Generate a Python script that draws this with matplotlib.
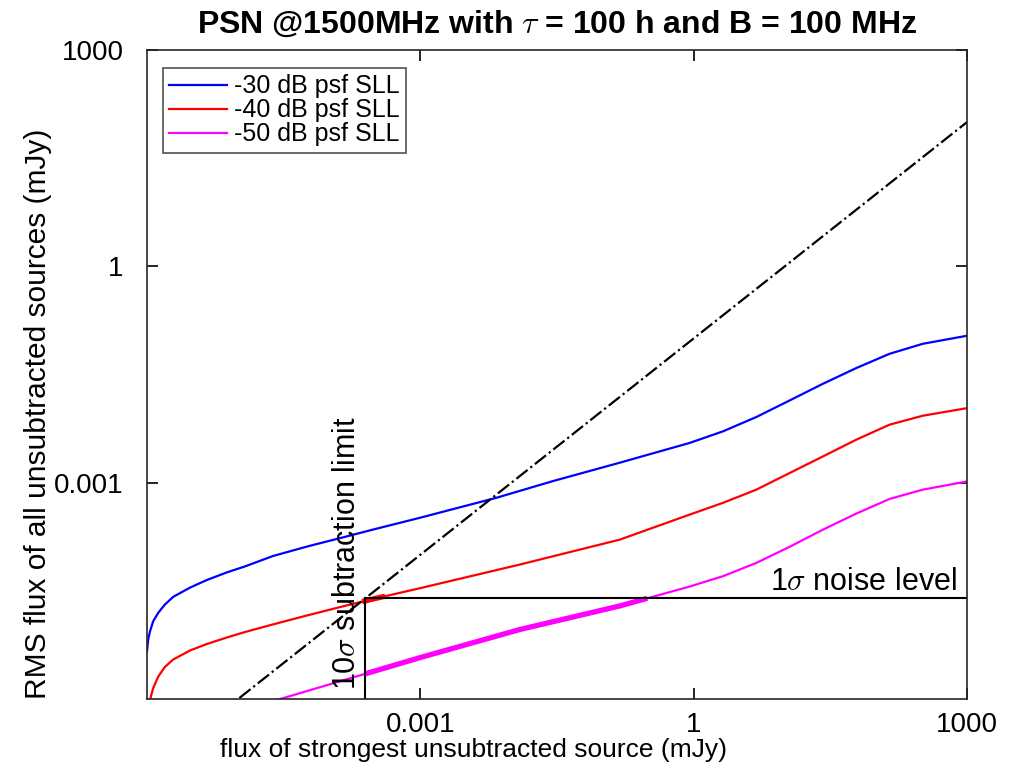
import numpy as np
import matplotlib
matplotlib.use('Agg')
import matplotlib.pyplot as plt

# values (mJy)
x_30 = [1.0e-6, 1.03e-6, 1.08e-6, 1.17e-6, 1.33e-6, 1.57e-6, 1.94e-6, 2.96e-6, 4.52e-6, 7.48e-6,
        1.19e-5, 2.4e-5, 5.7e-5, 1.31e-4, 3.0e-4, 1.0e-3, 6.9e-3, 2.84e-2, 0.154, 0.90,
        2.09, 4.87, 11.3, 26.2, 60.8, 141, 327, 1000]
y_30 = [4.6e-6, 6.68e-6, 8.71e-6, 1.20e-5, 1.57e-5, 2.04e-5, 2.61e-5, 3.50e-5, 4.46e-5, 5.68e-5,
        6.90e-5, 9.59e-5, 1.30e-4, 1.70e-4, 2.23e-4, 3.27e-4, 6.19e-4, 1.05e-3, 1.89e-3, 3.55e-3,
        5.14e-3, 8.13e-3, 1.38e-2, 2.35e-2, 3.88e-2, 6.12e-2, 8.43e-2, 0.109]

x_40 = [1.08e-6, 1.17e-6, 1.33e-6, 1.57e-6, 1.94e-6, 2.96e-6, 4.52e-6, 7.48e-6, 1.19e-5, 2.4e-5,
        5.7e-5, 1.31e-4, 3.0e-4, 1.0e-3, 1.23e-2, 0.154, 0.90,
        2.09, 4.87, 11.3, 26.2, 60.8, 141, 327, 1000]
y_40 = [9.8e-7, 1.42e-6, 2.05e-6, 2.78e-6, 3.53e-6, 4.70e-6, 5.78e-6, 7.11e-6, 8.49e-6, 1.08e-5,
        1.44e-5, 1.88e-5, 2.43e-5, 3.45e-5, 7.31e-5, 1.62e-4, 3.60e-4,
        5.24e-4, 8.0e-4, 1.36e-3, 2.31e-3, 3.94e-3, 6.37e-3, 8.48e-3, 1.08e-2]

x_50 = [2.74e-5, 1.0e-3, 1.23e-2, 0.154, 0.90, 2.09, 4.87, 11.3, 26.2, 60.8, 141, 327, 1000]
y_50 = [9.8e-7, 3.76e-6, 9.18e-6, 1.95e-5, 3.62e-5, 5.04e-5, 7.71e-5, 1.29e-4, 2.23e-4, 3.72e-4,
        5.94e-4, 8.0e-4, 1.04e-3]

# flux ratio line (dash-dot)
ratio_x = [1e-6, 1000]
ratio_y = [1e-7, 100]

noise = 2.55e-5      # 1 sigma
sub_limit = 2.46e-4  # 10 sigma

# ranges drawn thick
thick_40 = [2.3e-4, 4.1e-4]
thick_50 = [2.46e-4, 0.31]


def segment(xs, ys, lo, hi):
    lx, ly = np.log10(xs), np.log10(ys)
    inner = [v for v in lx if np.log10(lo) < v < np.log10(hi)]
    sx = np.array([np.log10(lo)] + inner + [np.log10(hi)])
    sy = np.interp(sx, lx, ly)
    return 10**sx, 10**sy


plt.rcParams['font.family'] = ['Liberation Sans', 'DejaVu Sans']
plt.rcParams['mathtext.fontset'] = 'cm'

fig = plt.figure(figsize=(10.12, 7.72), dpi=100)
ax = fig.add_axes([147/1012, 73/772, 820/1012, 649/772])

ax.plot(x_30, y_30, color='blue', lw=1.6, label='-30 dB psf SLL')
ax.plot(x_40, y_40, color='red', lw=1.6, label='-40 dB psf SLL')
ax.plot(x_50, y_50, color='magenta', lw=1.6, label='-50 dB psf SLL')

sx, sy = segment(x_40, y_40, *thick_40)
ax.plot(sx, sy, color='red', lw=3.8, solid_capstyle='butt')
sx, sy = segment(x_50, y_50, *thick_50)
ax.plot(sx, sy, color='magenta', lw=3.8, solid_capstyle='butt')

ax.plot(ratio_x, ratio_y, 'k-.', lw=1.6)
ax.plot([sub_limit, 1000], [noise, noise], 'k-', lw=1.5)
ax.plot([sub_limit, sub_limit], [1e-6, noise], 'k-', lw=1.5)

ax.text(767, 3.2e-5, r'1$\sigma$ noise level', fontsize=22, ha='right', va='baseline')
ax.text(2.28e-4, 1.35e-6, r'10$\sigma$ subtraction limit', fontsize=22,
        rotation=90, ha='right', va='bottom')

ax.set_xscale('log')
ax.set_yscale('log')
ax.set_xlim(1e-6, 1000)
ax.set_ylim(1e-6, 1000)
ax.set_xticks([1e-3, 1, 1000])
ax.set_xticklabels(['0.001', '1', '1000'])
ax.set_yticks([1e-3, 1, 1000])
ax.set_yticklabels(['0.001', '1', '1000'])
ax.minorticks_off()
ax.tick_params(direction='in', length=8, width=1.2, labelsize=20, top=True, right=True)
ax.tick_params(axis='x', pad=9)
ax.tick_params(axis='y', pad=17)
for s in ax.spines.values():
    s.set_linewidth(1.2)
    s.set_color('#262626')

ax.set_xlabel('flux of strongest unsubtracted source (mJy)', fontsize=19)
ax.xaxis.set_label_coords(0.398, -0.06)
ax.set_ylabel('RMS flux of all unsubtracted sources (mJy)', fontsize=21.5)
ax.yaxis.set_label_coords(-0.116, 0.44)
ax.set_title(r'PSN @1500MHz with $\tau$ = 100 h and B = 100 MHz', fontsize=23,
             fontweight='bold', pad=12)

leg = ax.legend(loc='upper left', fontsize=18, frameon=True, fancybox=False,
                edgecolor='#262626', handlelength=2.3, borderpad=0.25, labelspacing=0.0,
                handletextpad=0.3, borderaxespad=0, bbox_to_anchor=(0.0195, 0.972))
leg.get_frame().set_linewidth(1.2)

fig.savefig('out.png', dpi=100)
